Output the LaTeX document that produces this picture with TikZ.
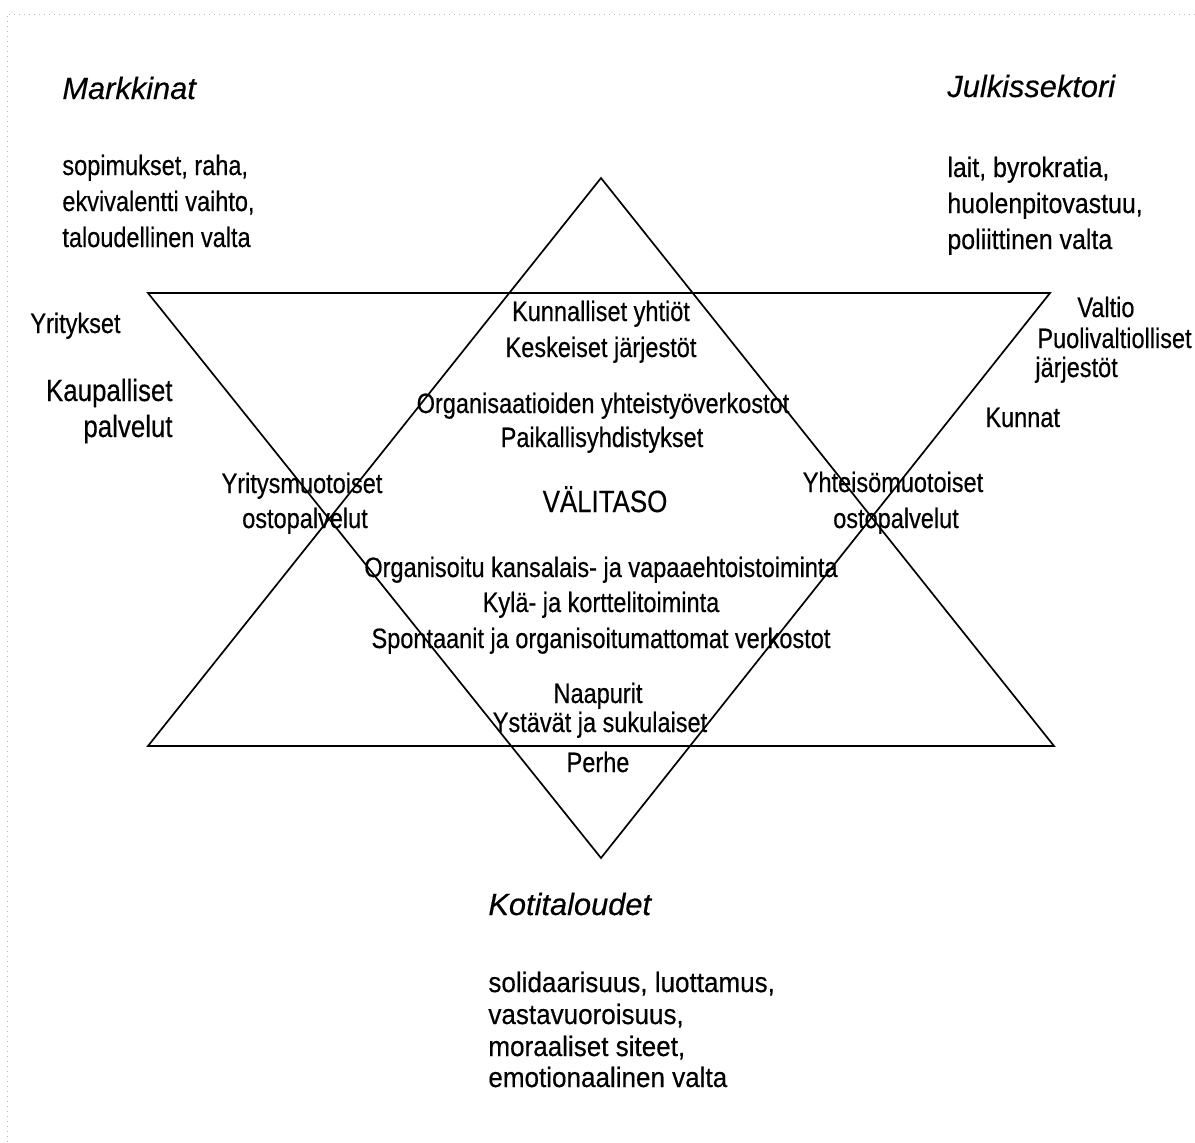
\documentclass[tikz,border=0pt]{standalone}
\usepackage{fontspec}
\setmainfont{Liberation Sans}[FakeStretch=0.84,FakeBold=0.4]
\newfontfamily\midfont{Liberation Sans}[FakeStretch=0.89,FakeBold=0.4]
\newfontfamily\widefont{Liberation Sans}[FakeStretch=0.93,FakeBold=0.4]
\newfontfamily\headfont{Liberation Sans}[FakeBold=0.3]
\begin{document}
\begin{tikzpicture}[x=0.5pt,y=-0.5pt,
  lbl/.style={inner sep=0pt, font=\fontsize{14}{17}\selectfont},
  big/.style={inner sep=0pt, font=\fontsize{15.4}{18}\selectfont},
  head/.style={inner sep=0pt, font=\headfont\itshape\fontsize{15.4}{18}\selectfont},
  midl/.style={inner sep=0pt, font=\midfont\fontsize{14}{17}\selectfont},
  widel/.style={inner sep=0pt, font=\widefont\fontsize{14}{17}\selectfont},
  edge/.style={line width=0.85pt, line join=miter},
  frame/.style={gray!55, dotted, line width=0.5pt}]
\useasboundingbox (0,0) rectangle (1195,1142);
\fill[white] (0,0) rectangle (1195,1142);
% scan frame
\coordinate (fb) at (7,1142);
\coordinate (fc) at (7,14);
\coordinate (fr) at (1195,14);
\draw[frame] (fb) -- (fc) -- (fr);
% triangles
\coordinate (uA) at (601,178);
\coordinate (uL) at (148,746);
\coordinate (uR) at (1054,746);
\coordinate (dL) at (148,293);
\coordinate (dR) at (1050,293);
\coordinate (dA) at (601,858);
\draw[edge] (uA) -- (uL) -- (uR) -- cycle;
\draw[edge] (dL) -- (dR) -- (dA) -- cycle;
% corner headings and lists
\node[head, anchor=base west] (mark) at (62,99) {Markkinat};
\node[lbl, anchor=base west] (m1) at (62,175) {sopimukset, raha,};
\node[lbl, anchor=base west] (m2) at (62,211) {ekvivalentti vaihto,};
\node[lbl, anchor=base west] (m3) at (62,247) {taloudellinen valta};
\node[head, anchor=base west] (julk) at (947,97) {Julkissektori};
\node[midl, anchor=base west] (j1) at (947,177) {lait, byrokratia,};
\node[midl, anchor=base west] (j2) at (947,213) {huolenpitovastuu,};
\node[midl, anchor=base west] (j3) at (947,249) {poliittinen valta};
% left side
\node[lbl, anchor=base west] (yr) at (30,333) {Yritykset};
\node[big, anchor=base east] (kp1) at (173,401) {Kaupalliset};
\node[big, anchor=base east] (kp2) at (173,437) {palvelut};
\node[lbl, anchor=base] (ym1) at (302,493) {Yritysmuotoiset};
\node[lbl, anchor=base] (ym2) at (305,528) {ostopalvelut};
% right side
\node[lbl, anchor=base west] (va) at (1077,317) {Valtio};
\node[lbl, anchor=base west] (pv1) at (1037,348) {Puolivaltiolliset};
\node[lbl, anchor=base west] (pv2) at (1035,377) {järjestöt};
\node[lbl, anchor=base west] (ku) at (985,427) {Kunnat};
\node[lbl, anchor=base] (yh1) at (893,492) {Yhteisömuotoiset};
\node[lbl, anchor=base] (yh2) at (896,528) {ostopalvelut};
% middle
\node[lbl, anchor=base] (c1) at (601,321) {Kunnalliset yhtiöt};
\node[lbl, anchor=base] (c2) at (601,357) {Keskeiset järjestöt};
\node[lbl, anchor=base] (c3) at (603,413) {Organisaatioiden yhteistyöverkostot};
\node[lbl, anchor=base] (c4) at (602,447) {Paikallisyhdistykset};
\node[big, anchor=base] (c5) at (605,512) {VÄLITASO};
\node[lbl, anchor=base] (c6) at (601,577) {Organisoitu kansalais- ja vapaaehtoistoiminta};
\node[lbl, anchor=base] (c7) at (601,612) {Kylä- ja korttelitoiminta};
\node[lbl, anchor=base] (c8) at (601,648) {Spontaanit ja organisoitumattomat verkostot};
\node[lbl, anchor=base] (c9) at (598,703) {Naapurit};
\node[lbl, anchor=base] (c10) at (600,732) {Ystävät ja sukulaiset};
\node[lbl, anchor=base] (c11) at (598,772) {Perhe};
% bottom
\node[head, anchor=base west] (koti) at (488,915) {Kotitaloudet};
\node[widel, anchor=base west] (k1) at (488,992) {solidaarisuus, luottamus,};
\node[widel, anchor=base west] (k2) at (488,1024) {vastavuoroisuus,};
\node[widel, anchor=base west] (k3) at (488,1056) {moraaliset siteet,};
\node[widel, anchor=base west] (k4) at (488,1087) {emotionaalinen valta};
\end{tikzpicture}
\end{document}
